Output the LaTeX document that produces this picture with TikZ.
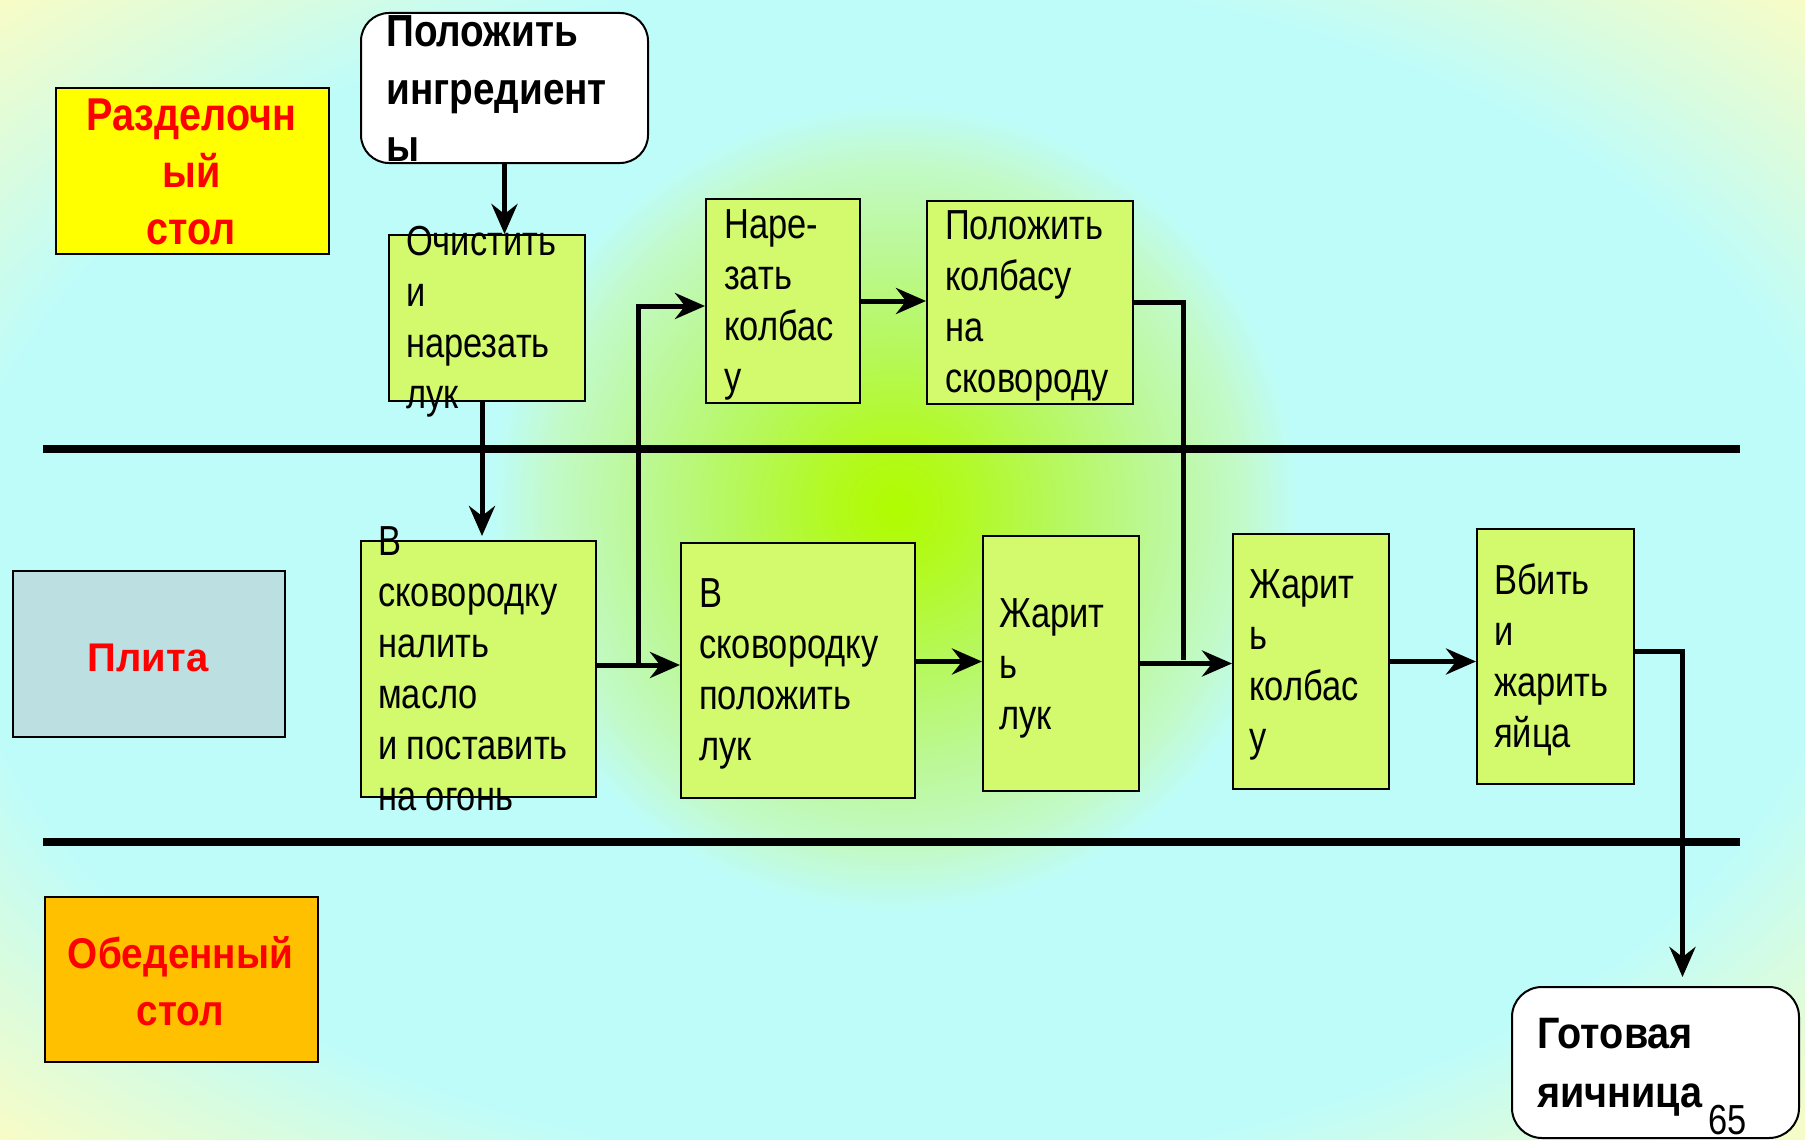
\documentclass[tikz,border=0pt]{standalone}
\usepackage{fontspec}
\usetikzlibrary{arrows.meta}

% Narrow sans for the step texts, condensed bold for the headings
\newfontfamily\plainnarrow[FakeStretch=0.82]{Liberation Sans}
\newfontfamily\boldnarrow[FakeStretch=0.86]{Liberation Sans}
\newfontfamily\boldsemi[FakeStretch=0.9]{Liberation Sans}
\newfontfamily\boldwide{Liberation Sans}

\definecolor{bgcyan}{HTML}{BEFCFA}
\definecolor{bgmid}{HTML}{DAFCDE}
\definecolor{cornery}{HTML}{F8FCC6}
\definecolor{limec}{HTML}{B0FC00}
\definecolor{glowa}{HTML}{B2FA1C}
\definecolor{glowb}{HTML}{B6F85C}
\definecolor{glowc}{HTML}{BCF898}
\definecolor{glowd}{HTML}{C2FAC8}
\definecolor{stepfill}{HTML}{D2FA6C}
\definecolor{cutfill}{HTML}{FFFF00}
\definecolor{stovefill}{HTML}{BCDFE2}
\definecolor{dinefill}{HTML}{FFC000}
\definecolor{lanered}{HTML}{FF0000}

% Soft background: cyan field with pale yellow corners
% (25bp of the shading spans half of the filled area, corners sit at about 35bp)
\pgfdeclareradialshading{bgfield}{\pgfpoint{0bp}{0bp}}{%
  color(0bp)=(bgcyan); color(26bp)=(bgcyan); color(30.5bp)=(bgmid); color(35.4bp)=(cornery);
  color(50bp)=(cornery)}
% Lime glow behind the middle of the chart
\pgfdeclareradialshading{glowfield}{\pgfpoint{0bp}{0bp}}{%
  color(0bp)=(limec); color(3.4bp)=(glowa); color(9.1bp)=(glowb); color(14.8bp)=(glowc);
  color(19.6bp)=(glowd); color(23bp)=(bgcyan); color(50bp)=(bgcyan)}

\newcommand\leftlines[2]{\parbox[t]{#1}{\raggedright #2}}
\newcommand\midlines[2]{\parbox[t]{#1}{\centering #2}}

\tikzset{
  lane/.style={line width=8pt, line cap=butt},
  flow/.style={line width=5pt, -{Stealth[length=30pt,width=26pt,inset=10pt]}},
  flowline/.style={line width=5pt},
  stepbox/.style={draw=black, line width=2pt, fill=stepfill, inner sep=0pt, anchor=north west},
  lanebox/.style={draw=black, line width=2pt, inner sep=0pt, anchor=north west},
  endbox/.style={draw=black, line width=2pt, fill=white, rounded corners=28pt, inner sep=0pt, anchor=north west},
  steptext/.style={anchor=base west, inner sep=0pt, font=\plainnarrow\fontsize{42}{51}\selectfont},
  endtext/.style={anchor=base west, inner sep=0pt, font=\boldnarrow\bfseries\fontsize{45}{57.5}\selectfont},
  lanetext/.style={anchor=base, inner sep=0pt, text=lanered},
}

\begin{document}
\begin{tikzpicture}[x=1pt, y=-1pt]
  \clip (0,0) rectangle (1805,1140);
  \shade[shading=bgfield] (0,0) rectangle (1805,1140);
  \shade[shading=glowfield] (895,508) circle[radius=440];

  % swim-lane separators
  \draw[lane] (43,449) -- (1740,449);
  \draw[lane] (43,842) -- (1740,842);

  % lane headers
  \node[lanebox, fill=cutfill, minimum width=273pt, minimum height=166pt] (cut) at (55,87) {};
  \node[lanebox, fill=stovefill, minimum width=272pt, minimum height=166pt] (stove) at (12,570) {};
  \node[lanebox, fill=dinefill, minimum width=273pt, minimum height=165pt] (dine) at (44,896) {};

  % start and end
  \node[endbox, minimum width=287pt, minimum height=150pt] (ingr) at (360,12) {};
  \node[endbox, rounded corners=30pt, minimum width=287pt, minimum height=151pt] (done) at (1511,986) {};

  % steps
  \node[stepbox, minimum width=196pt, minimum height=166pt] (peel) at (388,234) {};
  \node[stepbox, minimum width=154pt, minimum height=204pt] (slice) at (705,198) {};
  \node[stepbox, minimum width=206pt, minimum height=203pt] (put) at (926,200) {};
  \node[stepbox, minimum width=235pt, minimum height=256pt] (pan) at (360,540) {};
  \node[stepbox, minimum width=234pt, minimum height=255pt] (onion) at (680,542) {};
  \node[stepbox, minimum width=156pt, minimum height=255pt] (fryonion) at (982,535) {};
  \node[stepbox, minimum width=156pt, minimum height=255pt] (frysaus) at (1232,533) {};
  \node[stepbox, minimum width=157pt, minimum height=255pt] (eggs) at (1476,528) {};

  % connectors
  \coordinate (fork) at (638,664);
  \coordinate (join) at (1183,660);
  \draw[flow] (ingr.south) -- (ingr.south |- peel.north);
  \draw[flow] ([xshift=-5pt]peel.south) -- ([xshift=-5pt, yshift=4pt]peel.south |- pan.north);
  \draw[flow] ([yshift=4pt]pan.east) -- ([yshift=4pt]pan.east -| onion.west);
  \draw[flow] (fork) |- ([yshift=-5pt]slice.west);
  \draw[flow] (slice.east) -- (slice.east -| put.west);
  \draw[flowline] (put.east) -| (join);
  \draw[flow] ([yshift=9pt]onion.east) -- ([yshift=9pt]onion.east -| fryonion.west);
  \draw[flow] (fryonion.east) -- (fryonion.east -| frysaus.west);
  \draw[flow] (frysaus.east) -- (frysaus.east -| eggs.west);
  \draw[flow] ([yshift=5pt]eggs.east) -| ([xshift=27pt, yshift=9pt]done.north);

  % texts
  \node[lanetext, font=\boldnarrow\bfseries\fontsize{46}{57.5}\selectfont] (cut-t) at (191.5,130)
    {\midlines{273pt}{Разделочн\\ый\\стол}};
  \node[lanetext, font=\boldwide\bfseries\fontsize{40}{50}\selectfont] (stove-t) at (148,671)
    {\midlines{272pt}{Плита}};
  \node[lanetext, font=\boldsemi\bfseries\fontsize{43}{57}\selectfont] (dine-t) at (180.5,968)
    {\midlines{273pt}{Обеденный\\стол}};

  \node[endtext] (ingr-t) at (386,47) {\leftlines{280pt}{Положить\\ингредиент\\ы}};
  \node[endtext, font=\boldsemi\bfseries\fontsize{44}{59}\selectfont] (done-t) at (1537,1048)
    {\leftlines{260pt}{Готовая\\яичница}};

  \node[steptext] (peel-t) at (406,255) {\leftlines{240pt}{Очистить\\и\\нарезать\\лук}};
  \node[steptext] (slice-t) at (724,238) {\leftlines{200pt}{Наре-\\зать\\колбас\\у}};
  \node[steptext] (put-t) at (945,239) {\leftlines{240pt}{Положить\\колбасу\\на\\сковороду}};
  \node[steptext] (pan-t) at (378,555) {\leftlines{260pt}{В\\сковородку\\налить\\масло\\и поставить\\на огонь}};
  \node[steptext] (onion-t) at (699,607) {\leftlines{240pt}{В\\сковородку\\положить\\лук}};
  \node[steptext] (fryonion-t) at (999,627) {\leftlines{160pt}{Жарит\\ь\\лук}};
  \node[steptext] (frysaus-t) at (1249,598) {\leftlines{160pt}{Жарит\\ь\\колбас\\у}};
  \node[steptext] (eggs-t) at (1494,594) {\leftlines{160pt}{Вбить\\и\\жарить\\яйца}};

  \node[steptext] (page-t) at (1708,1134) {65};
\end{tikzpicture}
\end{document}
